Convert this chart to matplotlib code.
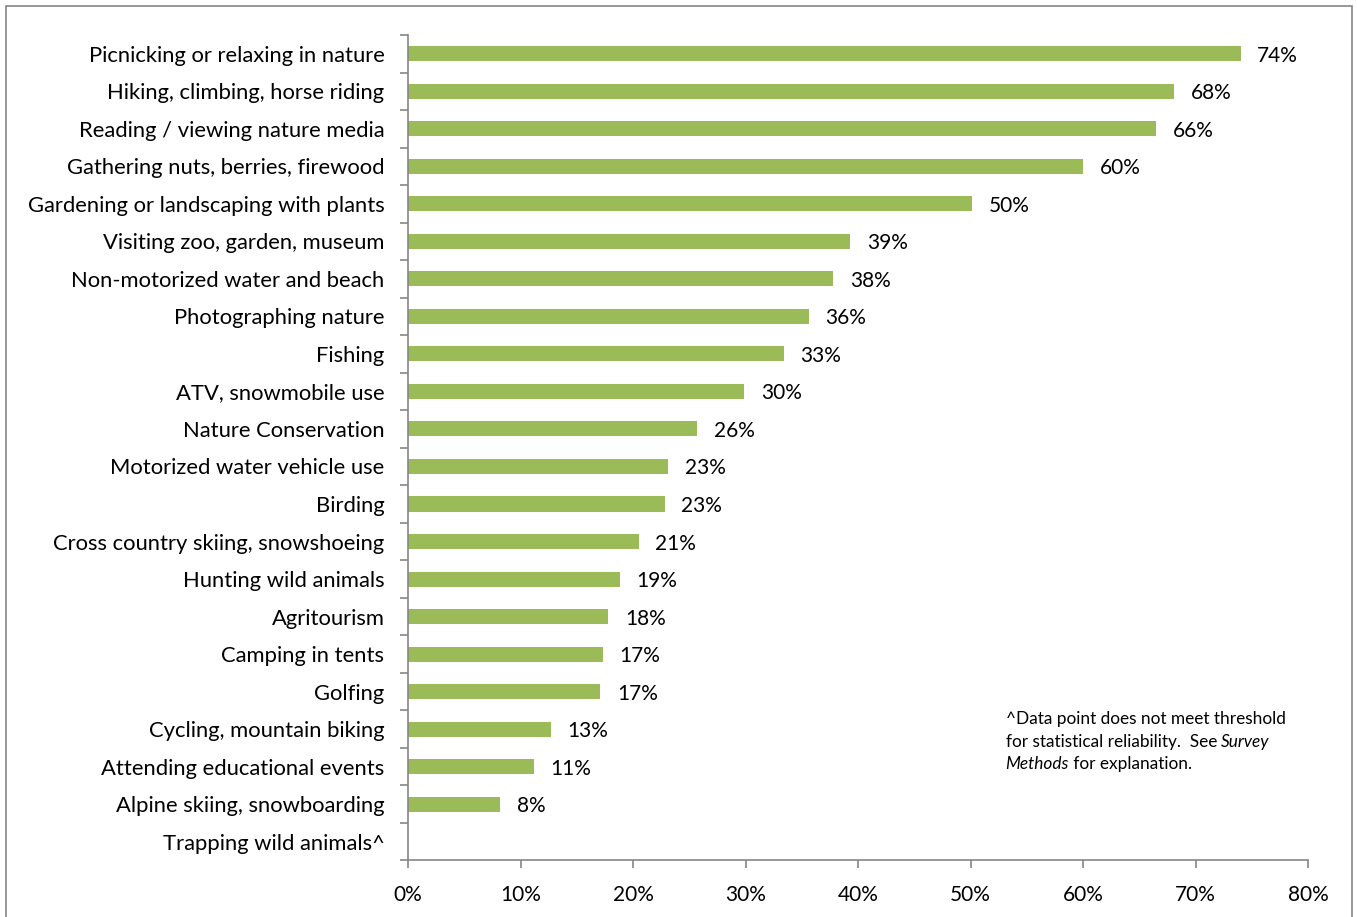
import matplotlib
matplotlib.use("Agg")
import matplotlib.pyplot as plt
from matplotlib.patches import Rectangle

plt.rcParams['font.family'] = ['Lato', 'DejaVu Sans']

activities = [
    "Picnicking or relaxing in nature", "Hiking, climbing, horse riding",
    "Reading / viewing nature media", "Gathering nuts, berries, firewood",
    "Gardening or landscaping with plants", "Visiting zoo, garden, museum",
    "Non-motorized water and beach", "Photographing nature", "Fishing",
    "ATV, snowmobile use", "Nature Conservation", "Motorized water vehicle use",
    "Birding", "Cross country skiing, snowshoeing", "Hunting wild animals",
    "Agritourism", "Camping in tents", "Golfing", "Cycling, mountain biking",
    "Attending educational events", "Alpine skiing, snowboarding",
    "Trapping wild animals^",
]
shares = [74.0, 68.1, 66.5, 60.0, 50.1, 39.3, 37.8, 35.6, 33.4, 29.9, 25.7,
          23.1, 22.8, 20.5, 18.8, 17.8, 17.3, 17.1, 12.7, 11.2, 8.2, 0.0]
value_labels = ["74%", "68%", "66%", "60%", "50%", "39%", "38%", "36%", "33%",
                "30%", "26%", "23%", "23%", "21%", "19%", "18%", "17%", "17%",
                "13%", "11%", "8%", ""]
xticks = [0, 10, 20, 30, 40, 50, 60, 70, 80]

fig = plt.figure(figsize=(13.57, 9.17), dpi=100)
ax = fig.add_axes([0.3007, 0.0617, 0.6632, 0.9001])

ypos = list(range(len(activities)))
ax.barh(ypos, shares, height=0.4, color="#9BBB59")
for y, v, lab in zip(ypos, shares, value_labels):
    if lab:
        ax.annotate(lab, (v, y), xytext=(12, 0), textcoords="offset points",
                    va="center_baseline", ha="left", fontsize=15)

ax.set_ylim(len(activities) - 0.5, -0.5)
ax.set_xlim(0, 80)
ax.set_yticks([y + 0.5 for y in range(-1, len(activities))])
ax.set_yticklabels([])
ax.set_yticks(ypos, minor=True)
ax.set_yticklabels(activities, minor=True, fontsize=15.8, va="center_baseline")
ax.tick_params(axis="y", which="minor", length=0, pad=17)
ax.tick_params(axis="y", which="major", length=6, color="#868686", width=1.2)
ax.set_xticks(xticks)
ax.set_xticklabels([f"{t}%" for t in xticks], fontsize=15)
ax.tick_params(axis="x", length=6, color="#868686", width=1.2, pad=12)

for s in ["top", "right"]:
    ax.spines[s].set_visible(False)
for s in ["left", "bottom"]:
    ax.spines[s].set_color("#868686")
    ax.spines[s].set_linewidth(1.2)

# footnote, with italic pieces
nfs = 12.4
t1 = fig.text(0.741, 0.2245, "^Data point does not meet threshold",
              fontsize=nfs, va="top", ha="left")
t2 = fig.text(0.741, 0.2000, "for statistical reliability.  See ",
              fontsize=nfs, va="top", ha="left")
ax.annotate("Survey", xy=(1, 0), xycoords=t2, va="bottom", ha="left",
            fontsize=nfs, style="italic")
t3 = fig.text(0.741, 0.1755, "Methods", fontsize=nfs, va="top", ha="left",
              style="italic")
ax.annotate(" for explanation.", xy=(1, 0), xycoords=t3, va="bottom", ha="left",
            fontsize=nfs)

fig.patches.append(Rectangle((0.0045, -0.01), 0.9915, 1.003, transform=fig.transFigure,
                             fill=False, edgecolor="#868686", linewidth=1.2))

fig.savefig("out.png", dpi=100)
